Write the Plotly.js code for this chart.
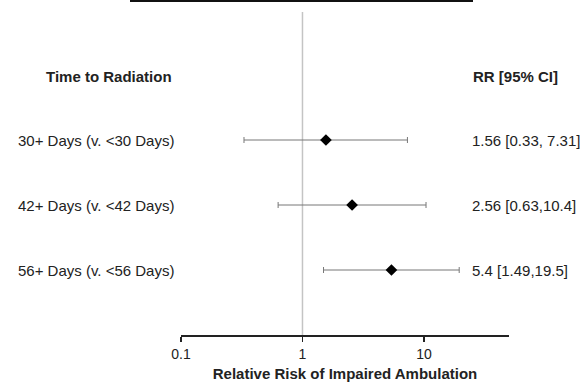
<!DOCTYPE html>
<html>
<head>
<meta charset="utf-8">
<script src="https://cdn.plot.ly/plotly-3.0.1.min.js"></script>
<style>html,body{margin:0;padding:0;background:#fff;}#chart{width:587px;height:382px;}</style>
</head>
<body>
<div id="chart"></div>
<script>
// ---- data ----
var labels = ["30+ Days (v. <30 Days)", "42+ Days (v. <42 Days)", "56+ Days (v. <56 Days)"];
var rr = [1.56, 2.56, 5.4];
var ciLow = [0.33, 0.63, 1.49];
var ciHigh = [7.31, 10.4, 19.5];
var ciText = ["1.56 [0.33, 7.31]", "2.56 [0.63,10.4]", "5.4 [1.49,19.5]"];
var leftHeader = "Time to Radiation";
var rightHeader = "RR [95% CI]";
var tickVals = [0.1, 1, 10];
var tickText = ["0.1", "1", "10"];
var xTitle = "Relative Risk of Impaired Ambulation";

// ---- positions derived from index ----
var n = labels.length;
var ys = labels.map(function(_, i){ return n - i; });
var headerY = n + 0.98;

var trace = {
  type: 'scatter', mode: 'markers',
  x: rr, y: ys,
  marker: {symbol: 'diamond', size: 9, color: '#000'},
  error_x: {
    type: 'data', symmetric: false,
    array: rr.map(function(v, i){ return ciHigh[i] - v; }),
    arrayminus: rr.map(function(v, i){ return v - ciLow[i]; }),
    color: '#777', thickness: 1, width: 3
  },
  hoverinfo: 'skip', showlegend: false
};

var plotL = 181, plotR = 509;
function px2paper(px){ return (px - plotL) / (plotR - plotL); }

var fam = 'Liberation Sans, Arial, sans-serif';
var font = {family: fam, size: 15, color: '#222'};

var annotations = [];
labels.forEach(function(l, i){
  annotations.push({xref: 'paper', yref: 'y', x: px2paper(16), y: ys[i], text: l,
    showarrow: false, xanchor: 'left', yanchor: 'middle', font: font});
  annotations.push({xref: 'paper', yref: 'y', x: px2paper(470), y: ys[i], text: ciText[i],
    showarrow: false, xanchor: 'left', yanchor: 'middle', font: font});
});
annotations.push({xref: 'paper', yref: 'y', x: px2paper(44), y: headerY, text: '<b>' + leftHeader + '</b>',
  showarrow: false, xanchor: 'left', yanchor: 'middle', font: font});
annotations.push({xref: 'paper', yref: 'y', x: px2paper(471), y: headerY, text: '<b>' + rightHeader + '</b>',
  showarrow: false, xanchor: 'left', yanchor: 'middle', font: font});

var layout = {
  width: 587, height: 382,
  margin: {l: plotL, r: 587 - plotR, t: 0, b: 47},
  paper_bgcolor: '#fff', plot_bgcolor: '#fff',
  font: font,
  xaxis: {
    type: 'log', range: [-1, 1.70], tickvals: tickVals, ticktext: tickText,
    showline: true, linecolor: '#222', linewidth: 2, ticks: 'outside', ticklen: 5,
    tickcolor: '#222', tickwidth: 1.5, showgrid: false, zeroline: false,
    tickfont: {family: fam, size: 14, color: '#222'},
    title: {text: '<b>' + xTitle + '</b>', font: {family: fam, size: 15, color: '#222'}, standoff: 9},
    fixedrange: true
  },
  yaxis: {
    range: [0, 335 / 65], showline: false, showgrid: false, zeroline: false,
    showticklabels: false, ticks: '', fixedrange: true
  },
  shapes: [
    {type: 'line', xref: 'x', yref: 'y', x0: 1, x1: 1, y0: 0, y1: (335 - 12) / 65,
      line: {color: '#c4c4c4', width: 1.5}, layer: 'below'},
    {type: 'line', xref: 'paper', yref: 'paper', x0: px2paper(130), x1: px2paper(473), y0: 0.997, y1: 0.997,
      line: {color: '#111', width: 2}}
  ],
  annotations: annotations
};

Plotly.newPlot('chart', [trace], layout, {displayModeBar: false, staticPlot: true});
</script>
</body>
</html>
